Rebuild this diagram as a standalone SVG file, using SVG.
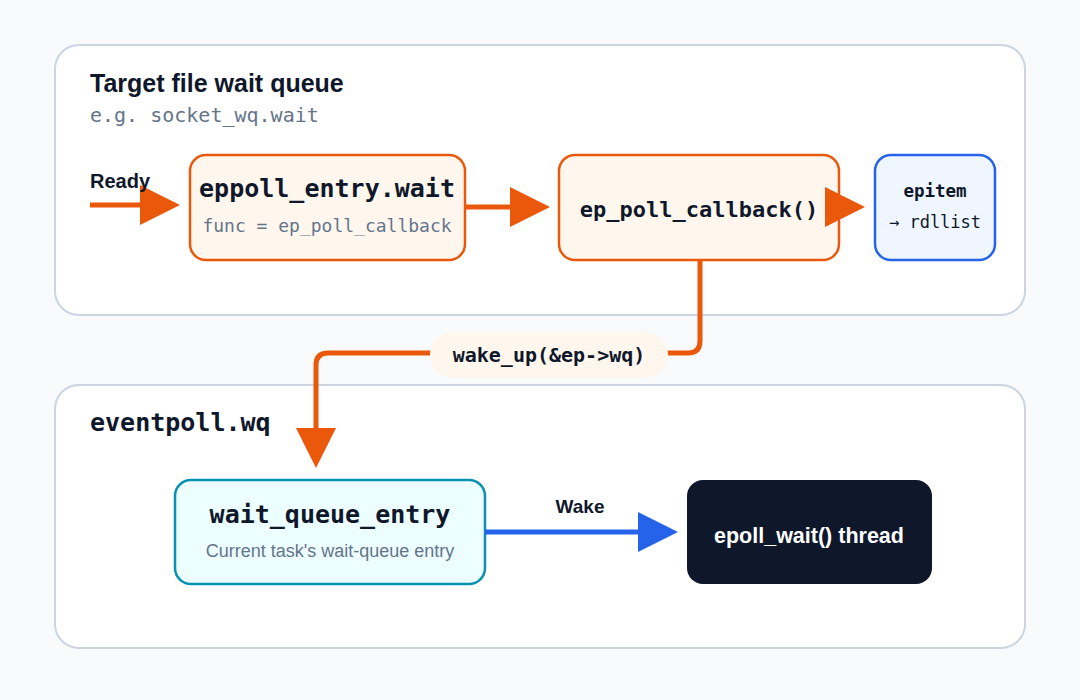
<svg xmlns="http://www.w3.org/2000/svg" width="1080" height="700" viewBox="0 0 1080 700">
<defs>
<style>
.panel{fill:#ffffff;stroke:#cbd5e1;stroke-width:2}
.sans{font-family:"Liberation Sans",Arial,Helvetica,sans-serif}
.mono{font-family:"DejaVu Sans Mono","Liberation Mono",monospace}
.dark{fill:#0f172a}
.muted{fill:#64748b}
.orange{fill:#fff7ed;stroke:#ea580c;stroke-width:2.5}
.oline{fill:none;stroke:#ea580c;stroke-width:5}
.bline{fill:none;stroke:#2563eb;stroke-width:5}
</style>
<marker id="ao" viewBox="0 0 10 10" refX="8" refY="5" markerWidth="8" markerHeight="8" orient="auto" markerUnits="strokeWidth"><path d="M0,0 L10,5 L0,10 z" fill="#ea580c"/></marker>
<marker id="ab" viewBox="0 0 10 10" refX="8" refY="5" markerWidth="8" markerHeight="8" orient="auto" markerUnits="strokeWidth"><path d="M0,0 L10,5 L0,10 z" fill="#2563eb"/></marker>
</defs>
<rect width="1080" height="700" fill="#f8fafc"/>
<g id="panel-top">
<rect class="panel" x="55" y="45" width="970" height="270" rx="24"/>
<text class="sans dark" x="90" y="92" font-size="25" font-weight="bold">Target file wait queue</text>
<text class="mono muted" x="90" y="122" font-size="20">e.g. socket_wq.wait</text>
</g>
<g id="panel-bottom">
<rect class="panel" x="55" y="385" width="970" height="263" rx="24"/>
<text class="mono dark" x="90" y="431" font-size="25" font-weight="bold">eventpoll.wq</text>
</g>
<g id="node-eppoll-entry">
<rect class="orange" x="190" y="155" width="275" height="105" rx="16"/>
<text class="mono dark" x="327" y="197" font-size="25" font-weight="bold" text-anchor="middle">eppoll_entry.wait</text>
<text class="mono muted" x="327" y="232" font-size="18" text-anchor="middle">func = ep_poll_callback</text>
</g>
<g id="node-ep-poll-callback">
<rect class="orange" x="559" y="155" width="280" height="105" rx="16"/>
<text class="mono dark" x="699" y="217" font-size="22" font-weight="bold" text-anchor="middle">ep_poll_callback()</text>
</g>
<g id="node-epitem">
<rect x="875" y="155" width="120" height="105" rx="16" fill="#eff6ff" stroke="#2563eb" stroke-width="2.5"/>
<text class="mono dark" x="935" y="197" font-size="17.5" font-weight="bold" text-anchor="middle">epitem</text>
<text class="mono dark" x="935" y="228" font-size="17" text-anchor="middle">→ rdllist</text>
</g>
<g id="node-wait-queue-entry">
<rect x="175" y="480" width="310" height="104" rx="16" fill="#ecfeff" stroke="#0891b2" stroke-width="2.5"/>
<text class="mono dark" x="330" y="523" font-size="25" font-weight="bold" text-anchor="middle">wait_queue_entry</text>
<text class="sans muted" x="330" y="557" font-size="18" text-anchor="middle">Current task's wait-queue entry</text>
</g>
<g id="node-epoll-wait-thread">
<rect x="687" y="480" width="245" height="104" rx="16" fill="#0f172a"/>
<text class="sans" x="809" y="543" font-size="21.5" font-weight="bold" text-anchor="middle" fill="#ffffff">epoll_wait() thread</text>
</g>
<g id="connectors">
<line class="oline" x1="90" y1="205" x2="172" y2="205" marker-end="url(#ao)"/>
<text class="sans dark" x="90" y="188" font-size="20" font-weight="bold">Ready</text>
<line class="oline" x1="465" y1="207" x2="542" y2="207" marker-end="url(#ao)"/>
<line class="oline" x1="839" y1="207" x2="857" y2="207" marker-end="url(#ao)"/>
<path class="oline" d="M700,260 V341 Q700,353 688,353 H328 Q316,353 316,365 V460" marker-end="url(#ao)"/>
<rect x="430" y="332" width="238" height="46" rx="23" fill="#fff7ed"/>
<text class="mono dark" x="549" y="362" font-size="20" font-weight="bold" text-anchor="middle">wake_up(&amp;ep-&gt;wq)</text>
<line class="bline" x1="485" y1="532" x2="670" y2="532" marker-end="url(#ab)"/>
<text class="sans dark" x="580" y="513" font-size="19" font-weight="bold" text-anchor="middle">Wake</text>
</g>
</svg>
